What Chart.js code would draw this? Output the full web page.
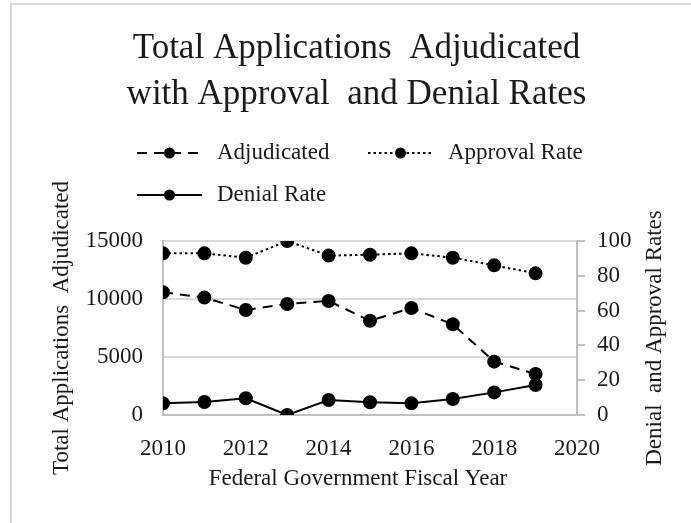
<!DOCTYPE html>
<html>
<head>
<meta charset="utf-8">
<script src="https://cdn.jsdelivr.net/npm/chart.js@4"></script>
<style>
  html, body { margin: 0; padding: 0; background: #fff; }
  #wrap { position: relative; width: 691px; height: 523px; }
</style>
</head>
<body>
<div id="wrap"><canvas id="Chart"></canvas></div>
<script>
// values
var years = [2010, 2011, 2012, 2013, 2014, 2015, 2016, 2017, 2018, 2019];
var adjudicated = [10580, 10120, 9050, 9570, 9830, 8130, 9220, 7820, 4600, 3530];
var approvalRate = [92.9, 92.9, 90.4, 100, 91.6, 92.1, 92.9, 90.4, 86.0, 81.4];
var denialRate = [6.7, 7.5, 9.6, 0, 8.6, 7.3, 6.7, 9.2, 13.0, 17.2];
var seriesNames = ["Adjudicated", "Approval Rate", "Denial Rate"];
var xTicks = [2010, 2012, 2014, 2016, 2018, 2020];

var serif = "'Liberation Serif', 'Times New Roman', serif";
var textColor = "#1a1a1a";
var gridColor = "#d9d9d9";
var axisColor = "#c0c0c0";

function toPoints(vals) {
    var pts = [];
    for (var i = 0; i < years.length; i++) {
        pts.push({ x: years[i], y: vals[i] });
    }
    return pts;
}

function lineSet(label, vals, axis, dash) {
    return {
        label: label,
        data: toPoints(vals),
        yAxisID: axis,
        borderColor: "#000",
        backgroundColor: "#000",
        borderWidth: 2,
        borderDash: dash,
        pointRadius: 6,
        pointBackgroundColor: "#000",
        pointBorderColor: "#000",
        tension: 0
    };
}

// frame, legend, x title and the right axis title (reads bottom-to-top)
var extras = {
    id: "extras",
    beforeDraw: function (chart) {
        var ctx = chart.ctx;
        ctx.save();
        ctx.strokeStyle = "#d9d9d9";
        ctx.lineWidth = 2;
        ctx.beginPath();
        ctx.moveTo(11, 523);
        ctx.lineTo(11, 4);
        ctx.lineTo(691, 4);
        ctx.stroke();
        ctx.restore();
    },
    afterDraw: function (chart) {
        var ctx = chart.ctx;
        var spots = [[137, 153], [368, 153], [137, 195]];
        ctx.save();
        for (var i = 0; i < chart.data.datasets.length; i++) {
            var ds = chart.data.datasets[i];
            var x = spots[i][0], y = spots[i][1];
            ctx.strokeStyle = "#000";
            ctx.lineWidth = 2;
            ctx.setLineDash(ds.borderDash || []);
            ctx.beginPath();
            ctx.moveTo(x, y);
            ctx.lineTo(x + 65, y);
            ctx.stroke();
            ctx.setLineDash([]);
            ctx.fillStyle = "#000";
            ctx.beginPath();
            ctx.arc(x + 32.5, y, 5.5, 0, Math.PI * 2);
            ctx.fill();
            ctx.fillStyle = textColor;
            ctx.font = "23px " + serif;
            ctx.textBaseline = "middle";
            ctx.textAlign = "left";
            ctx.fillText(ds.label, x + 80, y);
        }
        ctx.textAlign = "center";
        ctx.textBaseline = "middle";
        ctx.font = "23px " + serif;
        ctx.fillStyle = textColor;
        ctx.fillText("Federal Government Fiscal Year", 358, 479);
        ctx.translate(655, 338);
        ctx.rotate(-Math.PI / 2);
        ctx.fillText("Denial  and Approval Rates", 0, 0);
        ctx.restore();
    }
};

new Chart("Chart", {
    type: "line",
    data: {
        datasets: [
            lineSet(seriesNames[0], adjudicated, "y", [10, 7]),
            lineSet(seriesNames[1], approvalRate, "y1", [2.5, 3]),
            lineSet(seriesNames[2], denialRate, "y1", [])
        ]
    },
    options: {
        responsive: true,
        maintainAspectRatio: false,
        animation: false,
        devicePixelRatio: 1,
        layout: { padding: { left: 22, right: 0, top: 0, bottom: 0 } },
        plugins: {
            legend: { display: false },
            tooltip: { enabled: false },
            title: {
                display: true,
                text: ["Total Applications  Adjudicated", "with Approval  and Denial Rates"],
                color: textColor,
                font: { family: serif, size: 35, weight: "normal", lineHeight: 1.314 },
                padding: { top: 26, bottom: 123 }
            }
        },
        scales: {
            x: {
                type: "linear",
                min: 2010,
                max: 2020,
                afterFit: function (s) { s.height = 108; },
                afterBuildTicks: function (s) {
                    s.ticks = xTicks.map(function (v) { return { value: v }; });
                },
                ticks: {
                    color: textColor,
                    font: { family: serif, size: 23 },
                    padding: 12,
                    maxRotation: 0,
                    callback: function (v) { return String(v); }
                },
                grid: { display: false },
                border: { display: true, color: axisColor, width: 2 }
            },
            y: {
                position: "left",
                min: 0,
                max: 15000,
                afterFit: function (s) { s.width = 141; },
                ticks: {
                    stepSize: 5000,
                    color: textColor,
                    font: { family: serif, size: 23 },
                    padding: 20,
                    callback: function (v) { return String(v); }
                },
                grid: { color: gridColor, lineWidth: 2, drawTicks: false },
                border: { display: true, color: axisColor, width: 2 },
                title: {
                    display: true,
                    text: "Total Applications  Adjudicated",
                    color: textColor,
                    font: { family: serif, size: 23 },
                    padding: { top: 26, bottom: 0 }
                }
            },
            y1: {
                position: "right",
                min: 0,
                max: 100,
                afterFit: function (s) { s.width = 114; },
                ticks: {
                    stepSize: 20,
                    color: textColor,
                    font: { family: serif, size: 23 },
                    padding: 12
                },
                grid: { drawOnChartArea: false, drawTicks: true, tickLength: 8, color: axisColor, lineWidth: 2 },
                border: { display: true, color: axisColor, width: 2 }
            }
        }
    },
    plugins: [extras]
});
</script>
</body>
</html>
